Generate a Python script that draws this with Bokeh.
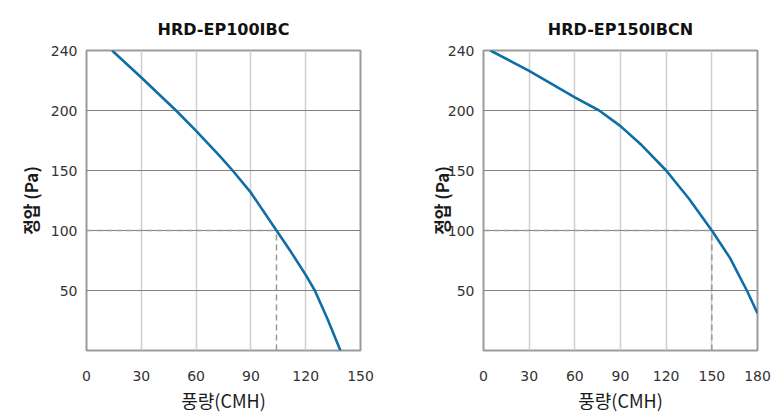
from bokeh.plotting import figure
from bokeh.layouts import row
from bokeh.embed import file_html
from bokeh.resources import INLINE

# ---- data ----
ep100_flow = [14, 30, 49, 60, 73, 80, 90, 104, 112, 120, 125, 132, 139]
ep100_pressure = [250, 227.5, 200, 183, 162, 150, 131.5, 100, 82, 63, 50, 26, 0]
ep100_op_flow = 104

ep150_flow = [4.5, 30, 60, 76, 90, 104, 120, 135, 150, 162, 173, 180]
ep150_pressure = [250, 233, 211, 200, 187, 171, 150, 126.5, 100, 77, 50, 31]
ep150_op_flow = 150

op_pressure = 100

ep100_x_ticks = [0, 30, 60, 90, 120, 150]
ep150_x_ticks = [0, 30, 60, 90, 120, 150, 180]
y_ticks = [50, 100, 150, 200, 250]
y_tick_labels = {250: "240"}

titles = ["HRD-EP100IBC", "HRD-EP150IBCN"]
x_label = "풍량(CMH)"
y_label = "정압 (Pa)"

CURVE = "#0f6ea6"
TICK_FONT = "DejaVu Sans"
KR_FONT = "Noto Sans CJK KR"


def make_chart(title, flow, pressure, op_flow, x_ticks, width, bl, br, y_label_standoff):
    p = figure(width=width, height=415,
               x_range=(x_ticks[0], x_ticks[-1]), y_range=(0, 250),
               output_backend="svg", toolbar_location=None,
               min_border_left=bl, min_border_right=br,
               min_border_top=50, min_border_bottom=63,
               background_fill_color="white", border_fill_color="white")
    p.title.text = title
    p.title.align = "center"
    p.title.vertical_align = "top"
    p.title.text_font = "DejaVu Sans"
    p.title.text_font_size = "16px"
    p.title.text_font_style = "bold"
    p.title.text_color = "#111111"
    p.title.standoff = 20

    p.outline_line_color = "#9b9b9b"
    p.outline_line_width = 2

    p.xaxis.ticker = x_ticks
    p.yaxis.ticker = y_ticks
    p.yaxis.major_label_overrides = y_tick_labels
    for ax in (p.xaxis, p.yaxis):
        ax.axis_line_color = None
        ax.major_tick_line_color = None
        ax.minor_tick_line_color = None
        ax.major_label_text_font = TICK_FONT
        ax.major_label_text_font_size = "14px"
        ax.major_label_text_color = "#333333"
        ax.axis_label_text_font = KR_FONT
        ax.axis_label_text_color = "#1a1a1a"
        ax.axis_label_text_font_style = "normal"
    p.xaxis.axis_label_text_font_size = "18px"
    p.yaxis.axis_label_text_font_size = "17px"
    p.xaxis.major_label_standoff = 14
    p.yaxis.major_label_standoff = 3
    p.xaxis.axis_label = x_label
    p.yaxis.axis_label = y_label
    p.yaxis.axis_label_text_font_style = "bold"
    p.xaxis.axis_label_standoff = 3
    p.yaxis.axis_label_standoff = y_label_standoff

    p.xgrid.grid_line_color = "#cfcfcf"
    p.xgrid.grid_line_width = 1.5
    p.ygrid.grid_line_color = "#808080"
    p.ygrid.grid_line_width = 1

    p.line([0, op_flow], [op_pressure, op_pressure], line_color="#999999",
           line_width=1.5, line_dash="6 4")
    p.line([op_flow, op_flow], [0, op_pressure], line_color="#999999",
           line_width=1.5, line_dash="6 4")
    p.line(flow, pressure, line_color=CURVE, line_width=2.6)
    return p


p1 = make_chart(titles[0], ep100_flow, ep100_pressure, ep100_op_flow,
                ep100_x_ticks, 390, 86, 30, 5)
p2 = make_chart(titles[1], ep150_flow, ep150_pressure, ep150_op_flow,
                ep150_x_ticks, 382, 93, 15, -9)

layout = row(p1, p2)
open("out.html", "w").write(file_html(layout, INLINE))
